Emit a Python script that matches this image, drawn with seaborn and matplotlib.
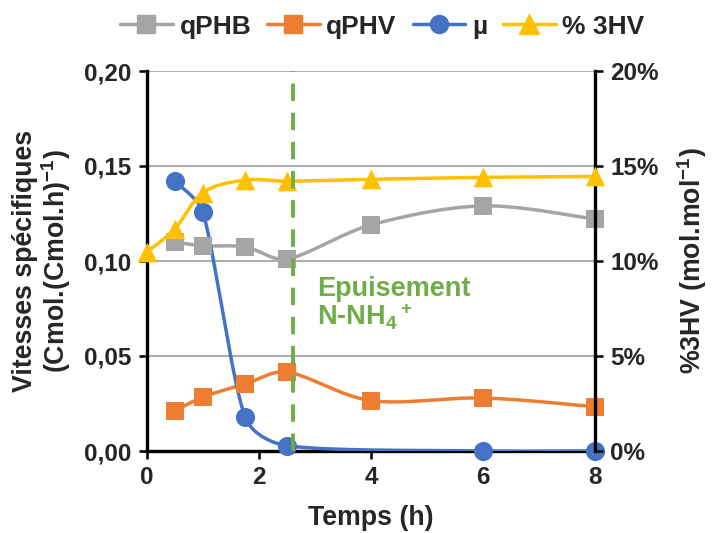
import numpy as np
import pandas as pd
import matplotlib
matplotlib.use("Agg")
import matplotlib.pyplot as plt
import seaborn as sns
from matplotlib.lines import Line2D
from matplotlib.ticker import FuncFormatter

# ---- data ----
t_q = [0.5, 1.0, 1.75, 2.5, 4.0, 6.0, 8.0]
qPHB = [0.110, 0.108, 0.1074, 0.101, 0.119, 0.129, 0.122]
qPHV = [0.0212, 0.0284, 0.0353, 0.0416, 0.0265, 0.0279, 0.0233]
t_mu = [0.5, 1.0, 1.75, 2.5, 6.0, 8.0]
mu = [0.142, 0.1256, 0.018, 0.0028, 0.0, 0.0]
t_hv = [0.0, 0.5, 1.0, 1.75, 2.5, 4.0, 6.0, 8.0]
hv3 = [10.47, 11.7, 13.6, 14.26, 14.2, 14.3, 14.4, 14.45]
t_epuis = 2.6
labels = ["qPHB", "qPHV", "µ", "% 3HV"]
colors = ["#A5A5A5", "#ED7D31", "#4472C4", "#FFC000"]
green = "#70AD47"

sns.set_theme(style="white")
plt.rcParams["font.family"] = ["Liberation Sans", "DejaVu Sans"]
plt.rcParams["font.weight"] = "bold"
plt.rcParams["mathtext.fontset"] = "custom"
plt.rcParams["mathtext.rm"] = "Liberation Sans:bold"
plt.rcParams["mathtext.bf"] = "Liberation Sans:bold"
plt.rcParams["mathtext.it"] = "Liberation Sans:bold"

FS = 19.3
TFS = 17.5
W, H = 712, 533
fig = plt.figure(figsize=(W / 100, H / 100), dpi=100)
L, R, T, B = 147, 595, 71, 451
ax = fig.add_axes([L / W, 1 - B / H, (R - L) / W, (B - T) / H])
ax2 = ax.twinx()


def smooth(x, y, sx, sy, n=40):
    P = np.column_stack([np.asarray(x, float) / sx, np.asarray(y, float) / sy])
    out = []
    m = len(P)
    for i in range(m - 1):
        p0 = P[i - 1] if i > 0 else P[i]
        p1, p2 = P[i], P[i + 1]
        p3 = P[i + 2] if i + 2 < m else P[i + 1]
        seglen = np.linalg.norm(p2 - p1)
        d1 = (p2 - p0) / 6
        d2 = (p3 - p1) / 6
        for d in (d1, d2):
            nd = np.linalg.norm(d)
            if nd > seglen / 3 and nd > 0:
                d *= (seglen / 3) / nd
        c1 = p1 + d1
        c2 = p2 - d2
        tt = np.linspace(0, 1, n)[:, None]
        seg = ((1 - tt) ** 3) * p1 + 3 * ((1 - tt) ** 2) * tt * c1 + 3 * (1 - tt) * tt ** 2 * c2 + tt ** 3 * p2
        out.append(seg if i == 0 else seg[1:])
    S = np.vstack(out)
    return S[:, 0] * sx, S[:, 1] * sy


sx = 8 / 448
sy = 0.2 / 380
lw = 2.5
series = [(t_q, qPHB, "s"), (t_q, qPHV, "s"), (t_mu, mu, "o")]
for (x, y, mk), c in zip(series, colors[:3]):
    xs, ys = smooth(x, y, sx, sy)
    ax.plot(xs, ys, color=c, lw=lw, zorder=3, solid_capstyle="round")
    df = pd.DataFrame({"t": x, "v": y})
    sns.scatterplot(data=df, x="t", y="v", ax=ax, marker=mk, s=160 if mk == "s" else 190,
                    color=c, edgecolor=c, linewidth=0, zorder=4, clip_on=False)

xs, ys = smooth(t_hv, hv3, sx, sy * 100)
ax2.plot(xs, ys, color=colors[3], lw=lw, zorder=3)
df = pd.DataFrame({"t": t_hv, "v": hv3})
sns.scatterplot(data=df, x="t", y="v", ax=ax2, marker="^", s=200, color=colors[3],
                edgecolor=colors[3], linewidth=0, zorder=4, clip_on=False)

ax2.axvline(t_epuis, color=green, lw=2.8, ls=(0, (4.5, 3)), zorder=6)
ax2.text(3.03, 8.16, "Epuisement", color=green, fontsize=19.5,
         fontweight="bold", ha="left", va="baseline")
ax2.text(3.03, 6.6, "N-NH$_4$$^+$", color=green, fontsize=19.5,
         fontweight="bold", ha="left", va="baseline")

ax.set_xlim(0, 8)
ax.set_ylim(0, 0.2)
ax2.set_ylim(0, 20)
ax.set_xticks([0, 2, 4, 6, 8])
ax.set_yticks([0, 0.05, 0.10, 0.15, 0.20])
ax2.set_yticks([0, 5, 10, 15, 20])
ax.yaxis.set_major_formatter(FuncFormatter(lambda v, p: f"{v:.2f}".replace(".", ",")))
ax2.yaxis.set_major_formatter(FuncFormatter(lambda v, p: f"{v:.0f}%"))
ax.grid(axis="y", color="#AFAFAF", lw=1.5)
ax.set_axisbelow(True)

for a in (ax, ax2):
    for s in a.spines.values():
        s.set_visible(False)
ax.spines["left"].set_visible(True)
ax.spines["bottom"].set_visible(True)
ax2.spines["right"].set_visible(True)
for s in (ax.spines["left"], ax.spines["bottom"], ax2.spines["right"]):
    s.set_color("black")
    s.set_linewidth(2.4)

ax.tick_params(axis="both", direction="out", length=6, width=1.8, color="black",
               labelsize=TFS, pad=5, left=True, bottom=True)
ax2.tick_params(axis="y", direction="out", length=6, width=1.8, color="black",
                labelsize=TFS, pad=5, right=True)
for lab in ax.get_xticklabels() + ax.get_yticklabels() + ax2.get_yticklabels():
    lab.set_fontweight("bold")

ax.set_xlabel("Temps (h)", fontsize=FS, fontweight="bold", labelpad=11)
ax.set_ylabel("Vitesses spécifiques\n(Cmol.(Cmol.h)$^{-1}$)", fontsize=FS,
              fontweight="bold", labelpad=8, linespacing=1.05)
ax2.set_ylabel("%3HV (mol.mol$^{-1}$)", fontsize=FS, fontweight="bold", labelpad=12)

handles = [
    Line2D([], [], color=colors[0], lw=lw, marker="s", ms=13, mec=colors[0]),
    Line2D([], [], color=colors[1], lw=lw, marker="s", ms=13, mec=colors[1]),
    Line2D([], [], color=colors[2], lw=lw, marker="o", ms=13, mec=colors[2]),
    Line2D([], [], color=colors[3], lw=lw, marker="^", ms=14, mec=colors[3]),
]
fig.legend(handles, labels, loc="center", bbox_to_anchor=(0.537, 0.95), ncol=4,
           frameon=False, prop={"size": 19, "weight": "bold"}, handlelength=2.0,
           handletextpad=0.25, columnspacing=0.6)

fig.savefig("out.png", dpi=100)
